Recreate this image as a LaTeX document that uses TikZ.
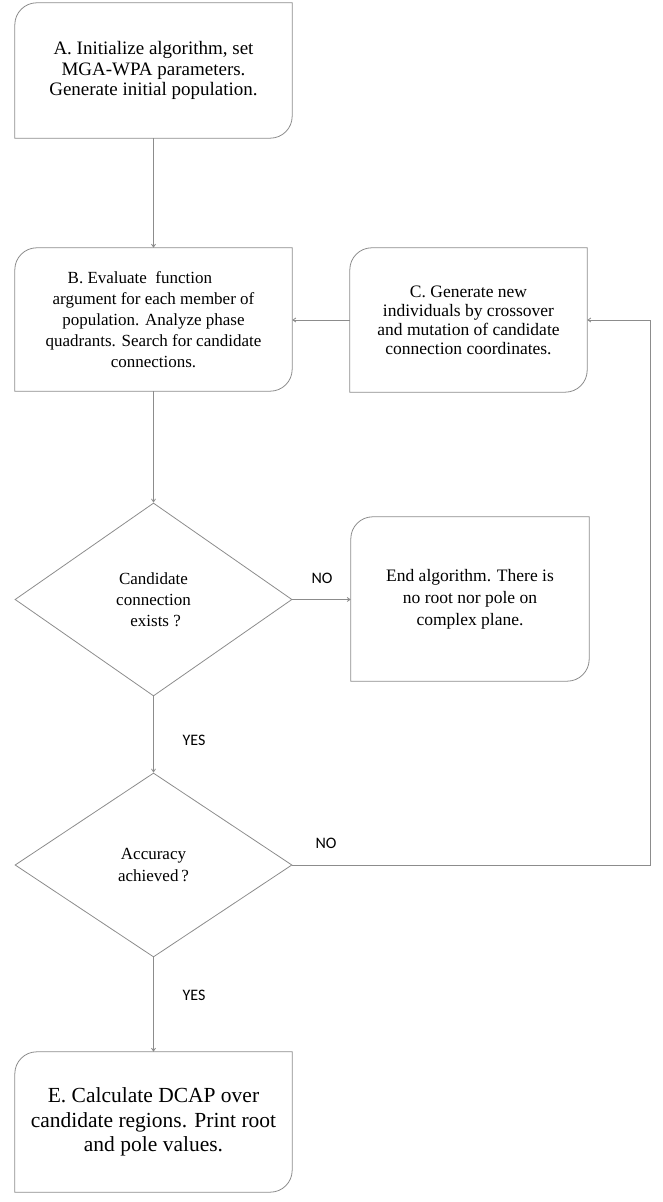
\documentclass[tikz,border=0pt]{standalone}
\usepackage{fontspec}
\setmainfont{Liberation Serif}
\newfontfamily\labelfont{Carlito}
\usetikzlibrary{shapes.geometric,arrows.meta}

% outline with two rounded corners (top left, bottom right)
\newcommand{\halfround}[1]{%
  \draw[flow] (#1.south west) -- ([yshift=-22pt]#1.north west)
    arc[start angle=180, end angle=90, radius=22pt] -- (#1.north east)
    -- ([yshift=22pt]#1.south east)
    arc[start angle=0, end angle=-90, radius=22pt] -- cycle;}

\begin{document}
\begin{tikzpicture}[x=1pt, y=1pt]
        % styles
        \tikzstyle{flow}=[draw=linegray, line width=0.8pt]
        \tikzstyle{arrow}=[flow, -{Straight Barb[length=3pt, width=4pt]}]
        \tikzstyle{box}=[rectangle, inner sep=0pt, align=center]
        \tikzstyle{decision}=[diamond, draw=linegray, line width=0.8pt, inner sep=0pt, align=center]
        \tikzstyle{answer}=[font=\labelfont\fontsize{16}{19}\selectfont]
        \colorlet{linegray}{black!45}
        \useasboundingbox (0,0) rectangle (662,1202);

        % boxes
        \node[box, minimum width=277pt, minimum height=135pt, font=\fontsize{19}{20.5}\selectfont] (init) at (153.5,1131.5)
            {A. Initialize algorithm, set\\ MGA-WPA parameters.\\ Generate initial population.};
        \node[box, minimum width=277pt, minimum height=143pt, font=\fontsize{17}{21}\selectfont] (eval) at (153.5,882.5)
            {B. Evaluate\ \ function\hspace*{1.6em}\\ argument for each member of\\ population. Analyze phase\\ quadrants. Search for candidate\\ connections.};
        \node[box, minimum width=237pt, minimum height=144pt, font=\fontsize{17.5}{19}\selectfont] (gen) at (468.5,882)
            {C. Generate new\\ individuals by crossover\\ and mutation of candidate\\ connection coordinates.};
        \node[box, minimum width=238pt, minimum height=164pt, font=\fontsize{17.5}{22}\selectfont] (stop) at (470,603)
            {End algorithm. There is\\ no root nor pole on\\ complex plane.};
        \node[box, minimum width=277pt, minimum height=140pt, font=\fontsize{21.5}{24.5}\selectfont] (calc) at (153.5,80)
            {E. Calculate DCAP over\\ candidate regions. Print root\\ and pole values.};
        \halfround{init}
        \halfround{eval}
        \halfround{gen}
        \halfround{stop}
        \halfround{calc}

        % decisions
        \node[decision, minimum width=277pt, minimum height=193pt, font=\fontsize{17}{21}\selectfont] (exists) at (153.5,602.5)
            {Candidate\\ connection\\ \ exists ?};
        \node[decision, minimum width=277pt, minimum height=184pt, font=\fontsize{17}{22}\selectfont] (accuracy) at (153.5,337)
            {Accuracy\\ achieved\,?};

        % answers
        \node[answer] (no1) at (322,624) {NO};
        \node[answer] (yes1) at (194,462) {YES};
        \node[answer] (no2) at (326,359) {NO};
        \node[answer] (yes2) at (194,207) {YES};

        % connectors
        \coordinate (turn) at (650,337);
        \draw[arrow] (init) -- (eval);
        \draw[arrow] (eval) -- (exists);
        \draw[arrow] (exists.east) -- (exists.east -| stop.west);
        \draw[arrow] (exists) -- (accuracy);
        \draw[arrow] (accuracy) -- (calc);
        \draw[arrow] (gen.west) -- (gen.west -| eval.east);
        \draw[arrow] (accuracy.east) -- (turn) |- (gen.east);
    \end{tikzpicture}
\end{document}
